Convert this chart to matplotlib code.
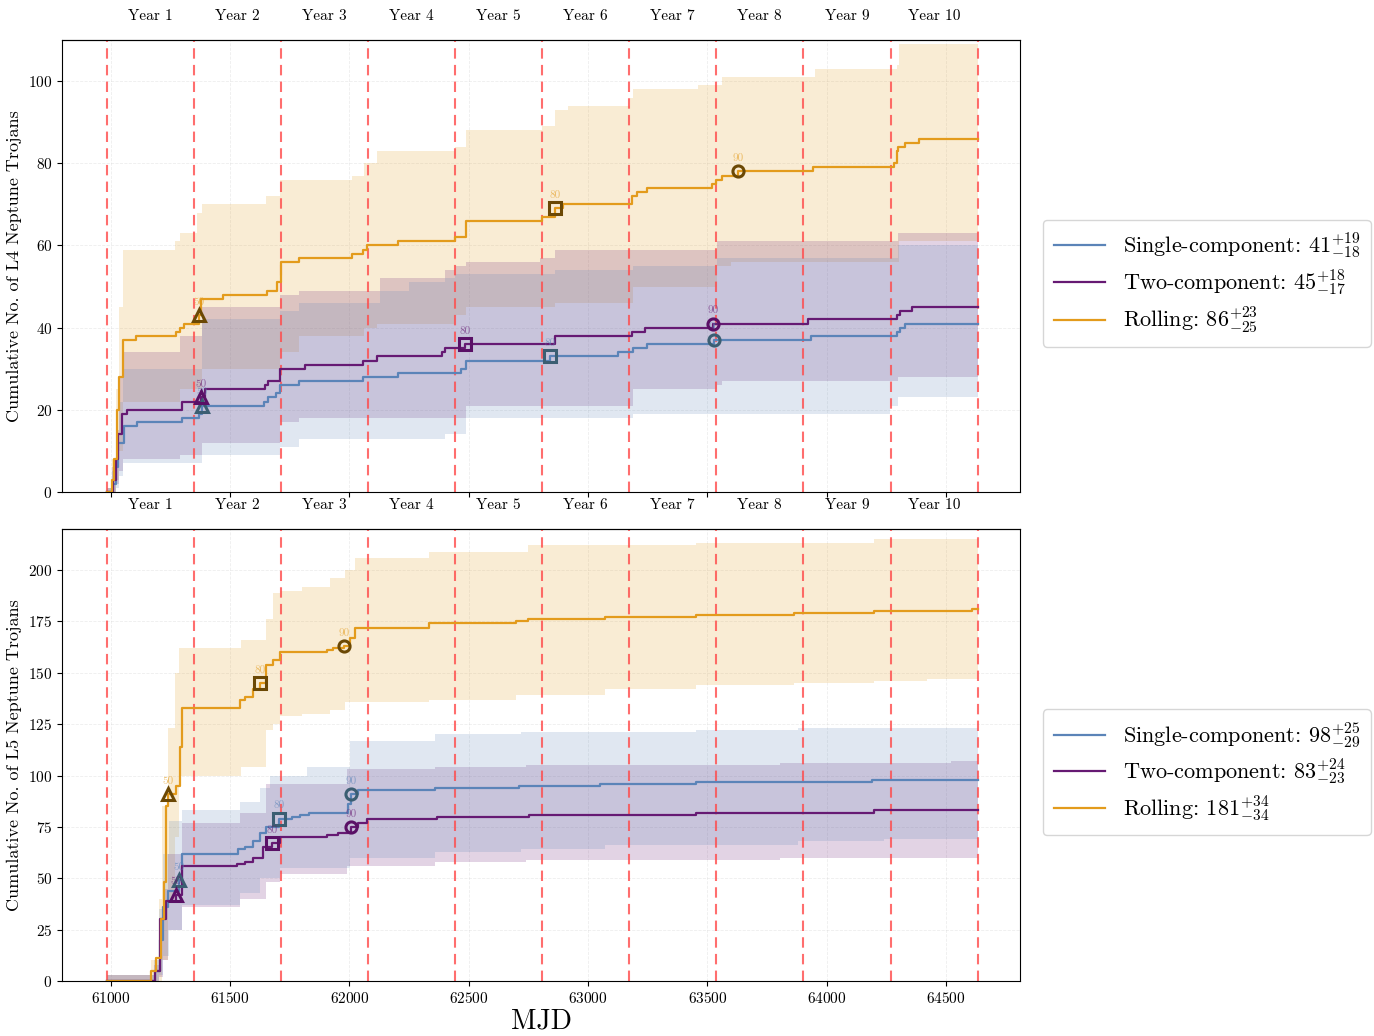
import numpy as np
import matplotlib
matplotlib.use("Agg")
import matplotlib.pyplot as plt

plt.rcParams['font.family'] = 'serif'
plt.rcParams['font.serif'] = ['cmr10']
plt.rcParams['mathtext.fontset'] = 'cm'
plt.rcParams['axes.formatter.use_mathtext'] = True

# survey year boundaries (MJD)
year_edges = [60983, 61348, 61713, 62078, 62443, 62808, 63172, 63537, 63902, 64268, 64633]
year_labels = ['Year %d' % i for i in range(1, 11)]
t_end = year_edges[-1]

# ---------------- L4 cumulative detections ----------------
l4_single_t = [60983, 61010, 61020, 61030, 61055, 61109, 61300, 61370, 61380, 61641, 61658, 61690,
               61708, 61788, 62055, 62203, 62467, 62487, 62840, 63126, 63189, 63245, 63528, 63933,
               64296, 64307, 64328]
l4_single_v = [0, 2, 6, 12, 16, 17, 18, 19, 21, 22, 23, 24, 26, 27, 28, 29, 30, 32, 33, 34, 35, 36,
               37, 38, 39, 40, 41]
l4_two_t = [60983, 61010, 61020, 61030, 61045, 61066, 61296, 61376, 61394, 61645, 61658, 61708, 61815,
            62057, 62116, 62386, 62400, 62484, 62861, 63185, 63238, 63525, 63923, 64296, 64307, 64356]
l4_two_v = [0, 3, 8, 14, 19, 20, 22, 23, 25, 26, 27, 30, 31, 32, 33, 34, 35, 36, 38, 39, 40, 41, 42,
            43, 44, 45]
l4_roll_t = [60983, 61005, 61015, 61025, 61035, 61050, 61105, 61275, 61290, 61305, 61370, 61378,
             61470, 61655, 61695, 61712, 61790, 62009, 62055, 62072, 62203, 62442, 62487, 62807,
             62861, 62895, 63183, 63203, 63245, 63518, 63537, 63561, 63629, 63944, 64282, 64293,
             64300, 64328, 64388]
l4_roll_v = [0, 3, 8, 20, 28, 37, 38, 39, 40, 41, 43, 47, 48, 49, 51, 56, 57, 58, 59, 60, 61, 62, 66,
             67, 69, 70, 72, 73, 74, 75, 76, 77, 78, 79, 80, 83, 84, 85, 86]

l4_single_band_t = [60983, 61005, 61020, 61035, 61050, 61380, 61708, 61790, 62130, 62250, 62400,
                    62442, 62487, 62861, 63190, 63540, 64265, 64300]
l4_single_hi = [1, 5, 12, 22, 30, 42, 44, 46, 49, 51, 52, 53, 53, 54, 55, 57, 57, 60]
l4_single_lo = [0, 0, 1, 4, 7, 9, 11, 13, 13, 13, 14, 14, 18, 18, 19, 19, 21, 23]
l4_two_band_t = [60983, 61005, 61020, 61035, 61050, 61290, 61380, 61708, 61790, 62130, 62400, 62442,
                 62487, 62800, 62861, 63190, 63540, 63560, 64300]
l4_two_hi = [1, 6, 15, 28, 34, 38, 45, 48, 49, 52, 54, 55, 56, 57, 59, 59, 61, 61, 63]
l4_two_lo = [0, 0, 2, 5, 8, 9, 12, 17, 18, 18, 18, 18, 21, 21, 21, 25, 26, 27, 28]
l4_roll_band_t = [60983, 61005, 61020, 61035, 61050, 61268, 61290, 61360, 61380, 61650, 61708, 61790,
                  62009, 62060, 62114, 62442, 62487, 62808, 62861, 62917, 63175, 63190, 63462, 63540,
                  63560, 63600, 63951, 64293, 64304]
l4_roll_hi = [1, 8, 25, 45, 59, 61, 63, 68, 70, 72, 76, 76, 77, 80, 83, 84, 88, 89, 93, 94, 96, 98,
              99, 99, 101, 101, 103, 104, 109]
l4_roll_lo = [0, 0, 3, 10, 22, 22, 25, 25, 30, 30, 34, 38, 38, 40, 41, 43, 45, 45, 46, 46, 46, 50,
              50, 55, 55, 56, 56, 56, 61]

# ---------------- L5 cumulative detections ----------------
l5_single_t = [60983, 61185, 61205, 61219, 61240, 61285, 61300, 61534, 61562, 61597, 61625, 61652,
               61706, 61760, 61792, 61830, 61995, 62005, 62037, 62358, 62709, 63051, 63453, 64189]
l5_single_v = [0, 5, 20, 36, 44, 49, 62, 64, 65, 68, 72, 75, 79, 80, 81, 82, 86, 91, 93, 94, 95, 96,
               97, 98]
l5_two_t = [60983, 61184, 61205, 61233, 61275, 61300, 61527, 61562, 61597, 61638, 61676, 61708,
            61904, 61950, 62005, 62037, 62072, 62366, 62752, 63453, 64198]
l5_two_v = [0, 5, 30, 39, 42, 56, 57, 58, 60, 65, 67, 70, 71, 72, 75, 77, 79, 80, 81, 82, 83]
l5_roll_t = [60983, 61170, 61190, 61212, 61222, 61233, 61240, 61275, 61289, 61300, 61541, 61562,
             61597, 61625, 61652, 61680, 61708, 61904, 61932, 61978, 62002, 62023, 62333, 62700,
             62747, 63069, 63453, 63864, 64198, 64608]
l5_roll_v = [0, 5, 11, 30, 48, 85, 91, 95, 114, 133, 137, 138, 142, 145, 154, 156, 160, 161, 162,
             163, 167, 172, 174, 175, 176, 177, 178, 179, 180, 181]

l5_single_band_t = [60983, 61180, 61200, 61220, 61245, 61300, 61541, 61625, 61666, 61708, 61820,
                    62002, 62358, 62720, 63070, 63453, 63880, 64240]
l5_single_hi = [3, 10, 35, 62, 78, 83, 87, 94, 100, 100, 104, 117, 120, 121, 121, 122, 123, 123]
l5_single_lo = [0, 0, 3, 12, 25, 37, 43, 50, 50, 55, 55, 60, 63, 64, 66, 66, 68, 69]
l5_two_band_t = [60983, 61180, 61200, 61220, 61240, 61300, 61541, 61652, 61708, 61990, 62358, 62740,
                 63070, 63804, 64521]
l5_two_hi = [3, 8, 25, 45, 62, 77, 82, 96, 96, 103, 104, 105, 105, 106, 107]
l5_two_lo = [0, 0, 2, 10, 25, 36, 40, 48, 52, 56, 58, 59, 59, 60, 60]
l5_roll_band_t = [60983, 61170, 61200, 61215, 61240, 61270, 61285, 61545, 61652, 61680, 61708, 61800,
                  61918, 61981, 62023, 62333, 62700, 62750, 63069, 63453, 63864, 64198, 64420]
l5_roll_hi = [3, 10, 40, 85, 123, 150, 162, 166, 176, 189, 190, 192, 196, 200, 206, 209, 209, 212,
              212, 213, 213, 215, 215]
l5_roll_lo = [0, 0, 0, 10, 40, 70, 100, 104, 122, 125, 129, 130, 132, 136, 136, 137, 139, 139, 142,
              144, 145, 146, 147]

l4_legend = ['Single-component: $41^{+19}_{-18}$',
             'Two-component: $45^{+18}_{-17}$',
             'Rolling: $86^{+23}_{-25}$']
l5_legend = ['Single-component: $98^{+25}_{-29}$',
             'Two-component: $83^{+24}_{-23}$',
             'Rolling: $181^{+34}_{-34}$']

milestones = [(0.5, '^', '50'), (0.8, 's', '80'), (0.9, 'o', '90')]

colors = {'single': '#5b84b8', 'two': '#661a73', 'roll': '#e39b1c'}
marker_edges = {'single': '#3b5e72', 'two': '#5a1066', 'roll': '#6b4804'}


def extend(t, v):
    return list(t) + [t_end], list(v) + [v[-1]]


def draw_panel(ax, series, bands, labels, ylabel, ymax, yticks):
    for key, (bt, lo, hi) in bands.items():
        bt_e, lo_e = extend(bt, lo)
        _, hi_e = extend(bt, hi)
        ax.fill_between(bt_e, lo_e, hi_e, step='post', color=colors[key],
                        alpha=0.19, lw=0, zorder=1)

    for e in year_edges:
        ax.axvline(e, color='#ff4a4a', ls=(0, (5, 3)), lw=1.5, alpha=0.8, zorder=1.5)

    handles = []
    for (key, (t, v)), lab in zip(series.items(), labels):
        te, ve = extend(t, v)
        h, = ax.step(te, ve, where='post', color=colors[key], lw=1.6, zorder=2, label=lab)
        handles.append(h)
        final = v[-1]
        for frac, mk, txt in milestones:
            i = next(k for k, x in enumerate(v) if x >= frac * final)
            ax.plot(t[i], v[i], marker=mk, ms=8, mfc='none', mec=marker_edges[key],
                    mew=2.2, zorder=3)
            ax.annotate(txt, (t[i], v[i]), xytext=(0, 6), textcoords='offset points',
                        ha='center', va='bottom', fontsize=8, color=colors[key], alpha=0.6)

    ax.set_xlim(60795, 64810)
    ax.set_ylim(0, ymax)
    ax.set_yticks(yticks)
    ax.set_ylabel(ylabel, fontsize=13)
    ax.grid(True, ls='--', lw=0.6, color='#cccccc', alpha=0.35)
    ax.set_axisbelow(True)
    ax.tick_params(labelsize=11)

    sec = ax.secondary_xaxis('top')
    mids = [(a + b) / 2 for a, b in zip(year_edges[:-1], year_edges[1:])]
    sec.set_xticks(mids)
    sec.set_xticklabels(year_labels, fontsize=11)
    sec.tick_params(length=0, pad=12)

    ax.legend(handles=handles, loc='center left', bbox_to_anchor=(1.012, 0.462),
              fontsize=16, handlelength=2.3, borderpad=0.5, labelspacing=0.3,
              handletextpad=0.8)


fig = plt.figure(figsize=(13.74, 10.36), dpi=100)
ax1 = fig.add_axes([0.0451, 0.5251, 0.6972, 0.4363])
ax2 = fig.add_axes([0.0451, 0.0531, 0.6972, 0.4363], sharex=ax1)

draw_panel(ax1,
           {'single': (l4_single_t, l4_single_v), 'two': (l4_two_t, l4_two_v),
            'roll': (l4_roll_t, l4_roll_v)},
           {'roll': (l4_roll_band_t, l4_roll_lo, l4_roll_hi),
            'two': (l4_two_band_t, l4_two_lo, l4_two_hi),
            'single': (l4_single_band_t, l4_single_lo, l4_single_hi)},
           l4_legend, 'Cumulative No. of L4 Neptune Trojans', 110, np.arange(0, 101, 20))
draw_panel(ax2,
           {'single': (l5_single_t, l5_single_v), 'two': (l5_two_t, l5_two_v),
            'roll': (l5_roll_t, l5_roll_v)},
           {'roll': (l5_roll_band_t, l5_roll_lo, l5_roll_hi),
            'two': (l5_two_band_t, l5_two_lo, l5_two_hi),
            'single': (l5_single_band_t, l5_single_lo, l5_single_hi)},
           l5_legend, 'Cumulative No. of L5 Neptune Trojans', 220, np.arange(0, 201, 25))

plt.setp(ax1.get_xticklabels(), visible=False)
ax2.set_xticks(np.arange(61000, 64501, 500))
ax2.set_xlabel('MJD', fontsize=20, labelpad=2)

fig.savefig('out.png', dpi=100)
